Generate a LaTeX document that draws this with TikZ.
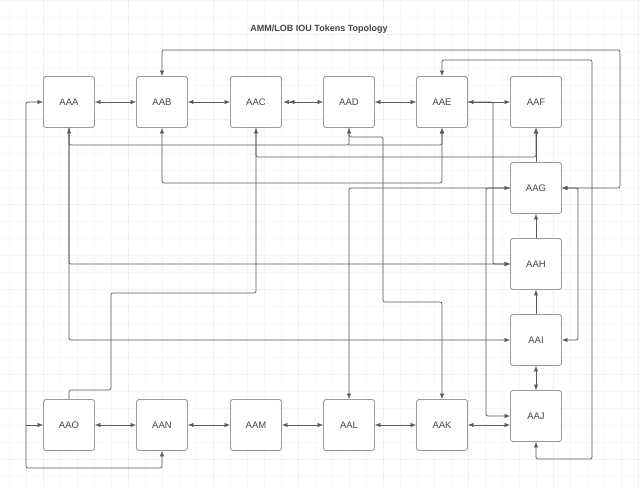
\documentclass[tikz,border=0pt]{standalone}
\usepackage{fontspec}
\setmainfont{Liberation Sans}
\usetikzlibrary{arrows.meta,calc}
\definecolor{boxline}{HTML}{9A9A9A}
\definecolor{conn}{HTML}{5A5A5A}
\definecolor{txt}{HTML}{444444}
\begin{document}
\begin{tikzpicture}[x=1pt,y=-1pt,
  tok/.style={draw=boxline,line width=0.9pt,fill=white,rounded corners=2.5pt,
    minimum width=51pt,minimum height=51pt,inner sep=0pt,
    font=\fontsize{9.5}{10}\selectfont,text=txt},
  conline/.style={draw=conn,line width=0.7pt,rounded corners=2pt,
    >={Latex[length=5.5pt,width=4.5pt]}},
  dbl/.style={conline,{Latex[length=5.5pt,width=4.5pt,sep=1.5pt]Latex[length=5.5pt,width=4.5pt]}-{Latex[length=5.5pt,width=4.5pt]}}
]
\useasboundingbox (0,0) rectangle (640,488);
\fill[white] (0,0) rectangle (640,488);
% faint grid
\foreach \gx in {9,26,...,640} \draw[black!3,line width=0.4pt] (\gx,0) -- (\gx,488);
\foreach \gy in {0,17,...,488} \draw[black!3,line width=0.4pt] (0,\gy) -- (640,\gy);
\foreach \gx in {43,128,...,640} \draw[black!6,line width=0.5pt] (\gx,0) -- (\gx,488);
\foreach \gy in {34,119,...,488} \draw[black!6,line width=0.5pt] (0,\gy) -- (640,\gy);

\node[font=\bfseries\fontsize{9}{10}\selectfont,text=txt] (title) at (319,29) {AMM/LOB IOU Tokens Topology};

% top row
\node[tok] (AAA) at (69,102) {AAA};
\node[tok] (AAB) at (162,102) {AAB};
\node[tok] (AAC) at (256,102) {AAC};
\node[tok] (AAD) at (349,102) {AAD};
\node[tok] (AAE) at (442,102) {AAE};
\node[tok] (AAF) at (536,102) {AAF};
% right column
\node[tok] (AAG) at (536,188) {AAG};
\node[tok] (AAH) at (536,264) {AAH};
\node[tok] (AAI) at (536,340) {AAI};
\node[tok] (AAJ) at (536,416) {AAJ};
% bottom row
\node[tok] (AAO) at (69,425) {AAO};
\node[tok] (AAN) at (162,425) {AAN};
\node[tok] (AAM) at (256,425) {AAM};
\node[tok] (AAL) at (349,425) {AAL};
\node[tok] (AAK) at (442,425) {AAK};

% top row horizontals
\draw[conline,<->] (AAA.east) -- (AAB.west);
\draw[conline,<->] (AAB.east) -- (AAC.west);
\draw[dbl] (AAC.east) -- (AAD.west);
\draw[conline,<->] (AAD.east) -- (AAE.west);
\draw[conline,<->] (AAE.east) -- (AAF.west);

% bottom row horizontals
\draw[conline,<->] (AAO.east) -- (AAN.west);
\draw[conline,<->] (AAN.east) -- (AAM.west);
\draw[conline,<->] (AAM.east) -- (AAL.west);
\draw[conline,<->] (AAL.east) -- (AAK.west);
\draw[conline,<->] (AAK.east) -- (AAK.east -| AAJ.west);

% right column verticals
\draw[conline,->] (AAH.north) -- (AAG.south);
\draw[conline,->] (AAI.north) -- (AAH.south);
\draw[conline,<->] (AAI.south) -- (AAJ.north);
\draw[conline,->] (AAG.north) -- (AAF.south);

% long top loops
\draw[conline,<->] (AAB.north) |- (620,50) |- (AAG.east);
\draw[conline,<->] (AAE.north) |- (592,60) |- (536,459) -- (AAJ.south);
\draw[conline,<->] (AAG.east) -- (578,188) -- (578,340) -- (AAI.east);

% AAE -> AAH
\draw[conline,->] (AAE.east) -| (493,264) -- (AAH.west);

% under top row
\coordinate (dj) at (349,145);
\draw[conline,<->] (AAA.south) |- (dj) -- (AAD.south);
\draw[conline,->] (dj) -- (442,145) -- (AAE.south);
\draw[conline,->] (AAC.south) |- (536,157) -- (AAF.south);
\draw[conline,<->] (AAB.south) |- (442,183) -- (AAE.south);
\draw[conline,->] (AAD.south) |- (383,137) |- (442,302) -- (AAK.north);

% AAA to AAH / AAI
\draw[conline,->] (AAA.south) |- (AAH.west);
\draw[conline,->] (AAA.south) |- (AAI.west);

% AAO -> AAC
\draw[conline,->] (AAO.north) |- (111,390) |- (256,293) -- (AAC.south);

% AAG west connections
\draw[conline,<->] (AAG.west) -| (AAL.north);
\draw[conline,->] (AAG.west) -- (486,188) |- (AAJ.west);

% left loop
\coordinate (lj) at (26,425);
\draw[conline,<->] (AAN.south) |- (26,468) |- (AAA.west);
\draw[conline,->] (lj) -- (AAO.west);
\end{tikzpicture}
\end{document}
